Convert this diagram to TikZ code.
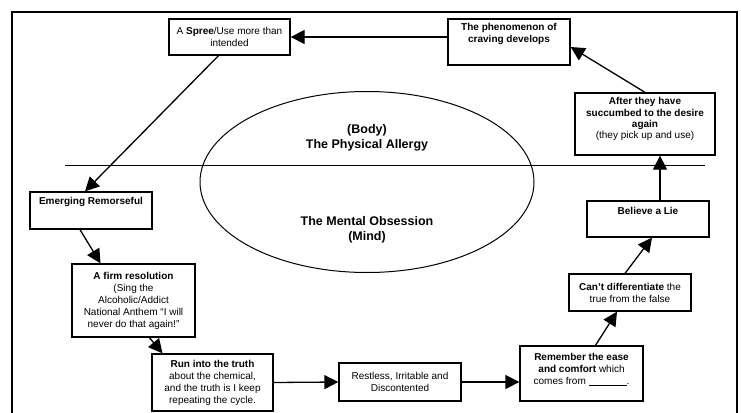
\documentclass[tikz,border=0pt]{standalone}
\usepackage{fontspec}
\setmainfont{Liberation Sans}
\usetikzlibrary{arrows.meta,shapes.geometric}

\def\lw{1.3pt}

\begin{document}
\begin{tikzpicture}[x=1pt, y=-1pt, line width=\lw,
	box/.style={rectangle,draw,line width=\lw,inner sep=2pt,align=center,font=\fontsize{10}{12}\selectfont},
	arr/.style={-{Triangle[length=14pt,width=14pt]}},
	big/.style={align=center,font=\fontsize{12.5}{15}\selectfont\bfseries}]
		\useasboundingbox (0,0) rectangle (741,412);
		\draw[line width=2pt] (12,420) -- (12,12) -- (737,12) -- (737,420);
		
		\node (A) at (229.5,37) [box, minimum width=121pt, minimum height=36pt]  {A \textbf{Spree}/Use more than\\intended};
		\node (B) at (509,42) [box, minimum width=122pt, minimum height=46pt, text depth=18pt]  {\textbf{The phenomenon of}\\\textbf{craving develops}};
		\node (C) at (645,124) [box, minimum width=140pt, minimum height=62pt, text depth=12pt, font=\fontsize{10}{11.2}\selectfont]  {\textbf{After they have}\\\textbf{succumbed to the desire}\\\textbf{again}\\(they pick up and use)};
		\node (D) at (648,219) [box, minimum width=122pt, minimum height=36pt, text depth=16pt]  {\textbf{Believe a Lie}};
		\node (E) at (630,292.5) [box, minimum width=122pt, minimum height=37pt]  {\textbf{Can't differentiate} the\\true from the false};
		\node (F) at (581.5,373.5) [box, minimum width=123pt, minimum height=55pt, text depth=10pt]  {\textbf{Remember the ease}\\\textbf{and comfort} which\\comes from \rule[-1pt]{38pt}{0.5pt}.};
		\node (G) at (400,382) [box, minimum width=122pt, minimum height=38pt]  {Restless, Irritable and\\Discontented};
		\node (H) at (212.5,382.5) [box, minimum width=121pt, minimum height=57pt]  {\textbf{Run into the truth}\\about the chemical,\\and the truth is I keep\\repeating the cycle.};
		\node (I) at (133.5,300.5) [box, minimum width=123pt, minimum height=73pt]  {\textbf{A firm resolution}\\(Sing the\\Alcoholic/Addict\\National Anthem ``I will\\never do that again!''};
		\node (J) at (91,210.5) [box, minimum width=122pt, minimum height=37pt, text depth=20pt]  {\textbf{Emerging Remorseful}};
		
		\node (K) at (367,182) [ellipse,draw,line width=1pt,minimum width=334pt,minimum height=181pt,inner sep=0]  {};
		\coordinate (L) at (65,165);
		\coordinate (M) at (705,165);
		\draw[line width=1pt] (L) -- (M);
		\node (N) at (367,138) [big]  {(Body)\\The Physical Allergy};
		\node (O) at (367,230) [big]  {The Mental Obsession\\(Mind)};
		
		\draw[arr] (B.west |- A.east) to (A.east);
		\draw[arr] (C.north) to ([yshift=-5pt]B.east);
		\draw[arr] ([xshift=12pt]D.north) to ([xshift=12pt]D.north |- C.south);
		\draw[arr] ([xshift=-5pt]E.north) to ([xshift=4pt]D.south);
		\draw[arr] ([xshift=14pt]F.north) to ([xshift=-13pt]E.south);
		\draw[arr] (G.east) to (F.west |- G.east);
		\draw[arr] (H.east) to (G.west);
		\draw[arr] ([xshift=16pt]I.south) to ([xshift=-50pt]H.north);
		\draw[arr] ([xshift=-11pt]J.south) to ([xshift=-33pt]I.north);
		\draw[arr] ([xshift=-11pt]A.south) to ([xshift=-6pt]J.north);
		
	\end{tikzpicture}
\end{document}
